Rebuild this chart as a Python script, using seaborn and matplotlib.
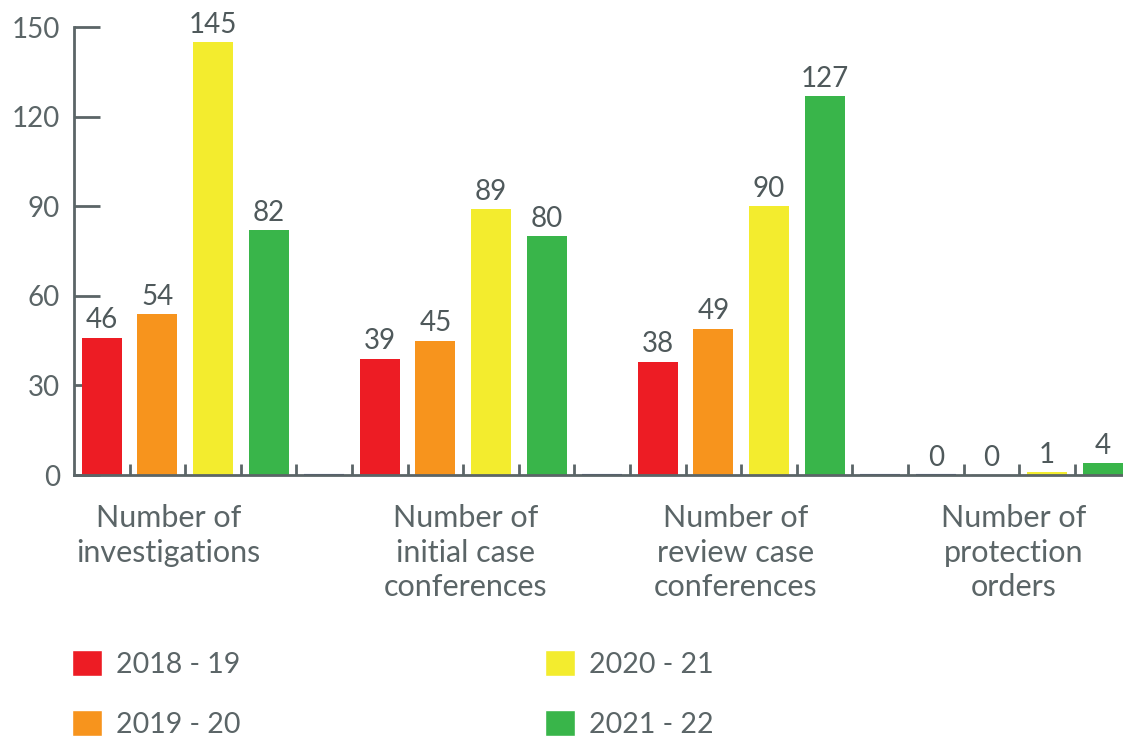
import numpy as np
import pandas as pd
import seaborn as sns
import matplotlib.pyplot as plt
from matplotlib.patches import Patch

sns.set_style('white')
plt.rcParams['font.family'] = ['Lato', 'DejaVu Sans']

categories = ['Number of\ninvestigations', 'Number of\ninitial case\nconferences',
              'Number of\nreview case\nconferences', 'Number of\nprotection\norders']
years = ['2018 - 19', '2019 - 20', '2020 - 21', '2021 - 22']
v_2018 = [46, 39, 38, 0]
v_2019 = [54, 45, 49, 0]
v_2020 = [145, 89, 90, 1]
v_2021 = [82, 80, 127, 4]
blank = [0, 0, 0, 0]  # empty spacer slot after each group

colors = ['#ed1c24', '#f7941d', '#f3ec2e', '#39b54a', '#2e3f8f']
grey = '#5b6567'
txt = '#4f595b'

rows = []
for name, vals in zip(years + [' '], [v_2018, v_2019, v_2020, v_2021, blank]):
    for c, v in zip(categories, vals):
        rows.append({'cat': c, 'year': name, 'value': v})
df = pd.DataFrame(rows)

fig = plt.figure(figsize=(11.23, 7.38), dpi=100)
ax = fig.add_axes([74/1123, 1-475/738, 1112/1123, 448/738])

sns.barplot(data=df, x='cat', y='value', hue='year', hue_order=years + [' '],
            palette=colors, saturation=1, width=1.0, gap=0.28, ax=ax, legend=False,
            edgecolor='none', linewidth=0)

# zero height bars show as a thin line on the baseline
for bar in ax.containers[4]:
    bar.set_edgecolor(colors[4])
    bar.set_linewidth(1.5)
for bar in ax.containers[0][3:]:
    bar.set_edgecolor('#2e3f8f')
    bar.set_linewidth(1.5)
for bar in ax.containers[1][3:]:
    bar.set_edgecolor(grey)
    bar.set_linewidth(1.0)

for cont in ax.containers[:4]:
    ax.bar_label(cont, fmt='%d', padding=3, fontsize=20, color=txt, clip_on=False)

ax.set_ylim(0, 150)
ax.set_xlim(-0.5, 3.5)
ax.set_yticks(np.arange(0, 151, 30))
ax.tick_params(axis='y', direction='in', length=19, width=2, color=grey,
               labelsize=20, labelcolor=grey, pad=10, left=True)

ax.set_xticks([-0.16, 0.91, 1.88, 2.88])
ax.set_xticklabels(categories, fontsize=22, color=grey, linespacing=1.28)
ax.tick_params(axis='x', length=0, pad=21)
ax.set_xticks(np.arange(-0.3, 3.5, 0.2), minor=True)
ax.tick_params(axis='x', which='minor', direction='in', length=8, width=2, color=grey, bottom=True)

for s in ['top', 'right']:
    ax.spines[s].set_visible(False)
for s in ['left', 'bottom']:
    ax.spines[s].set_color(grey)
    ax.spines[s].set_linewidth(2)
ax.set_xlabel('')
ax.set_ylabel('')

handles = [Patch(facecolor=c) for c in colors[:4]]
leg = fig.legend(handles, years, ncol=2, loc='upper left', bbox_to_anchor=(0.041, 0.154),
                 frameon=False, fontsize=20.5, handlelength=1.05, handleheight=1.05,
                 handletextpad=0.5, columnspacing=10.7, labelspacing=1.12)
for t in leg.get_texts():
    t.set_color(grey)

fig.savefig('out.png', dpi=100)
